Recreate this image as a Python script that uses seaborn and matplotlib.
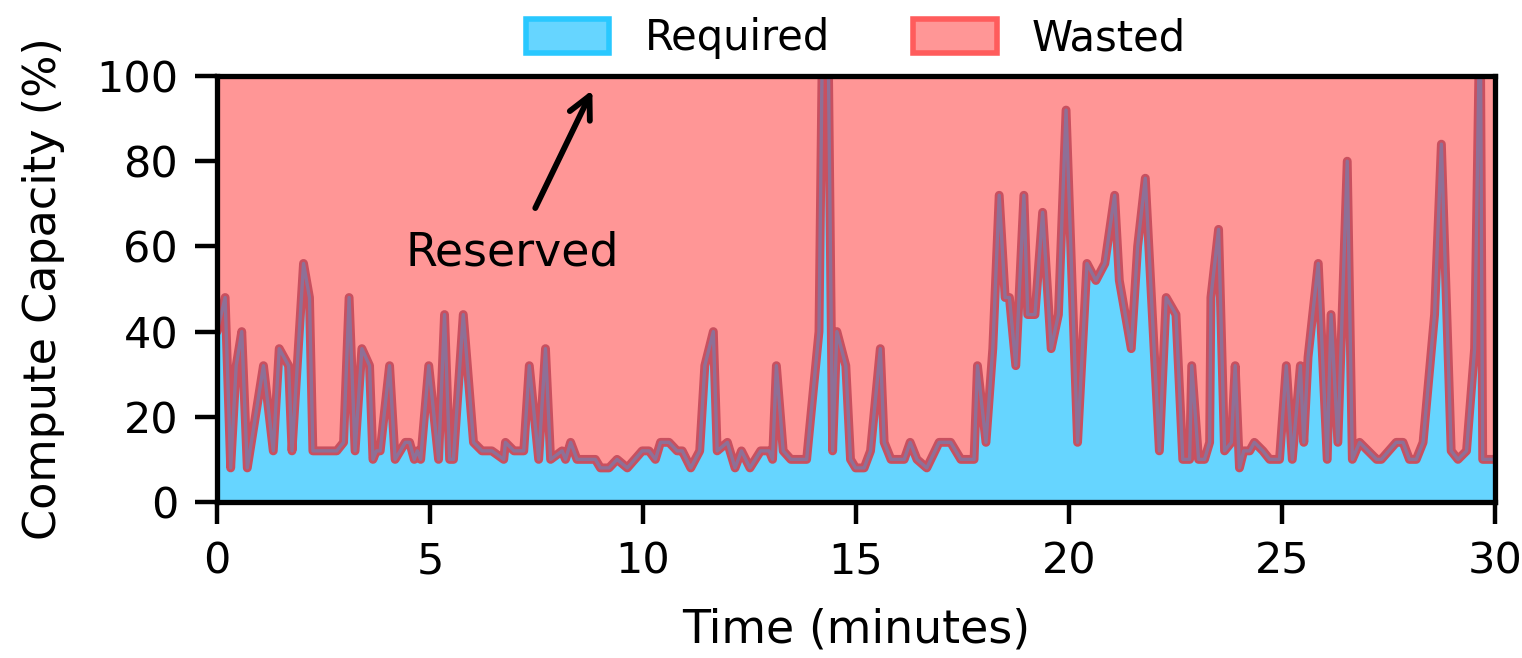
import matplotlib
matplotlib.use("Agg")
import matplotlib.pyplot as plt
from matplotlib.patches import Patch
import seaborn as sns
import numpy as np

# ---- data ----
time_min = [0.00, 0.19, 0.32, 0.45, 0.58, 0.71, 1.09, 1.32, 1.46, 1.68, 1.76, 2.03, 2.17, 2.25,
            2.81, 2.97, 3.10, 3.24, 3.40, 3.58, 3.66, 3.74, 3.83, 4.05, 4.18, 4.42, 4.52, 4.63,
            4.70, 4.78, 4.97, 5.20, 5.34, 5.46, 5.55, 5.78, 6.02, 6.22, 6.45, 6.73, 6.77, 6.97,
            7.20, 7.33, 7.55, 7.71, 7.83, 8.10, 8.18, 8.30, 8.45, 8.88, 9.00, 9.20, 9.39, 9.63,
            9.98, 10.14, 10.29, 10.41, 10.61, 10.80, 10.92, 11.12, 11.33, 11.45, 11.65, 11.74,
            11.98, 12.16, 12.31, 12.51, 12.76, 12.96, 13.04, 13.13, 13.29, 13.47, 13.84, 14.13,
            14.28, 14.45, 14.55, 14.76, 14.87, 14.99, 15.19, 15.34, 15.57, 15.66, 15.82, 16.13,
            16.27, 16.43, 16.66, 16.95, 17.22, 17.46, 17.77, 17.85, 18.05, 18.21, 18.36, 18.50,
            18.60, 18.75, 18.94, 19.03, 19.20, 19.38, 19.58, 19.75, 19.93, 20.20, 20.42, 20.63,
            20.84, 21.07, 21.18, 21.46, 21.61, 21.79, 22.12, 22.28, 22.51, 22.67, 22.83, 22.88,
            23.04, 23.18, 23.30, 23.33, 23.51, 23.65, 23.81, 23.90, 24.00, 24.10, 24.24, 24.35,
            24.55, 24.71, 24.94, 25.10, 25.24, 25.43, 25.51, 25.61, 25.85, 26.06, 26.15, 26.31,
            26.53, 26.65, 26.82, 27.02, 27.22, 27.33, 27.68, 27.84, 27.99, 28.15, 28.31, 28.58,
            28.74, 28.97, 29.13, 29.33, 29.52, 29.65, 29.71, 30.00]
required_pct = [40, 48, 8, 32, 40, 8, 32, 12, 36, 32, 12, 56, 48, 12,
                12, 14, 48, 12, 36, 32, 10, 12, 12, 32, 10, 14, 14, 10,
                12, 10, 32, 10, 44, 10, 10, 44, 14, 12, 12, 10, 14, 12,
                12, 32, 10, 36, 10, 12, 10, 14, 10, 10, 8, 8, 10, 8,
                12, 12, 10, 14, 14, 12, 12, 8, 12, 32, 40, 12,
                14, 8, 12, 8, 12, 12, 10, 32, 12, 10, 10, 40,
                168, 12, 40, 32, 10, 8, 8, 12, 36, 14, 10, 10,
                14, 10, 8, 14, 14, 10, 10, 32, 14, 36, 72, 48,
                48, 32, 72, 44, 44, 68, 36, 44, 92, 14, 56, 52,
                56, 72, 52, 36, 60, 76, 12, 48, 44, 10, 10, 32,
                10, 10, 14, 48, 64, 12, 14, 32, 8, 12, 12, 14,
                12, 10, 10, 32, 10, 32, 14, 34, 56, 10, 44, 14,
                80, 10, 14, 12, 10, 10, 14, 14, 10, 10, 14, 44,
                84, 12, 10, 12, 36, 120, 10, 10]
reserved_pct = 100
x_ticks = [0, 5, 10, 15, 20, 25, 30]
y_ticks = [0, 20, 40, 60, 80, 100]
legend_labels = ["Required", "Wasted"]

# ---- style ----
sns.set_theme(style="ticks")
plt.rcParams["font.family"] = ["DejaVu Sans"]
plt.rcParams["axes.linewidth"] = 1.9
plt.rcParams["text.color"] = "black"

BLUE_FACE = "#66d5ff"
BLUE_EDGE = "#29c8ff"
RED_FACE = "#ff9696"
RED_EDGE = "#ff5c5c"
LINE_OUT = "#c9505f"
LINE_IN = "#8079a6"

fig = plt.figure(figsize=(7.61, 3.29), dpi=200)
ax = fig.add_axes([0.1426, 0.2371, 0.9823 - 0.1426, 0.8845 - 0.2371])

t = np.array(time_min, dtype=float)
v = np.array(required_pct, dtype=float)

ax.fill_between(t, 0, v, color=BLUE_FACE, lw=0, zorder=1)
ax.fill_between(t, v, reserved_pct, color=RED_FACE, lw=0, zorder=1)
sns.lineplot(x=t, y=v, ax=ax, color=LINE_OUT, lw=3.2, zorder=3, sort=False)
sns.lineplot(x=t, y=v, ax=ax, color=LINE_IN, lw=1.2, alpha=0.8, zorder=4, sort=False)

ax.set_xlim(0, 30)
ax.set_ylim(0, 100)
ax.set_xticks(x_ticks)
ax.set_yticks(y_ticks)
ax.tick_params(axis="both", which="major", length=8, width=1.6, pad=6,
               labelsize=15.5, color="black", labelcolor="black", direction="out")
for s in ax.spines.values():
    s.set_color("black")
    s.set_linewidth(1.9)
    s.set_zorder(5)

ax.set_xlabel("Time (minutes)", fontsize=16.5, labelpad=9, color="black")
ax.set_ylabel("Compute Capacity (%)", fontsize=16, labelpad=11, color="black")

ax.annotate("", xy=(8.81, 96.7), xytext=(7.47, 69),
            arrowprops=dict(arrowstyle="->", lw=2.1, color="black",
                            mutation_scale=20, shrinkA=0, shrinkB=0), zorder=6)
ax.text(6.93, 58.5, "Reserved", ha="center", va="center", fontsize=16.5,
        color="black", zorder=6)

handles = [Patch(facecolor=BLUE_FACE, edgecolor=BLUE_EDGE, lw=2.0),
           Patch(facecolor=RED_FACE, edgecolor=RED_EDGE, lw=2.0)]
leg = ax.legend(handles, legend_labels, loc="lower center", bbox_to_anchor=(0.5, 1.0),
                ncol=2, frameon=False, fontsize=15, handlelength=2.0, handleheight=0.85,
                handletextpad=0.85, columnspacing=2.0, borderaxespad=0.0)
for txt in leg.get_texts():
    txt.set_color("black")

fig.savefig("out.png", dpi=200)
